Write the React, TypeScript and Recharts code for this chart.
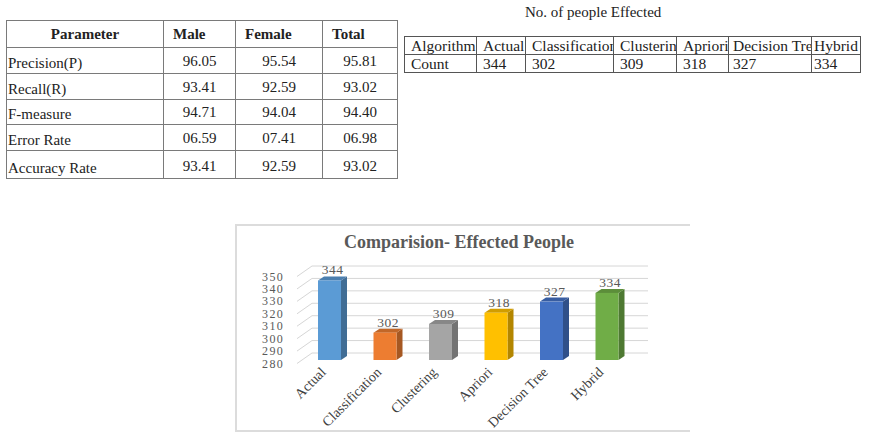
import React from 'react';
import { BarChart, Bar, XAxis, YAxis, CartesianGrid, Cell } from 'recharts';

// Evaluation parameters table
const paramNames = ['Precision(P)', 'Recall(R)', 'F-measure', 'Error Rate', 'Accuracy Rate'];
const maleValues = ['96.05', '93.41', '94.71', '06.59', '93.41'];
const femaleValues = ['95.54', '92.59', '94.04', '07.41', '92.59'];
const totalValues = ['95.81', '93.02', '94.40', '06.98', '93.02'];
const paramHeaders = ['Parameter', 'Male', 'Female', 'Total'];

// Affected people per algorithm
const algorithms = ['Actual', 'Classification', 'Clustering', 'Apriori', 'Decision Tree', 'Hybrid'];
const counts = [344, 302, 309, 318, 327, 334];
const barColors = ['#5B9BD5', '#ED7D31', '#A5A5A5', '#FFC000', '#4472C4', '#70AD47'];
const yTicks = [280, 290, 300, 310, 320, 330, 340, 350];

const chartData = algorithms.map((name, i) => ({ name, count: counts[i] }));

const SERIF = '"Liberation Serif", "Times New Roman", serif';

function shade(hex: string, f: number): string {
  const n = parseInt(hex.slice(1), 16);
  const r = Math.round(((n >> 16) & 255) * f);
  const g = Math.round(((n >> 8) & 255) * f);
  const b = Math.round((n & 255) * f);
  return `rgb(${r},${g},${b})`;
}

// Bar with a side and top face for a 3D look
const Bar3D = (props: any) => {
  const { x, y, width, height, fill } = props;
  if (height == null || width == null) return null;
  const dx = 6;
  const dy = 4;
  return (
    <g>
      <polygon
        points={`${x + width},${y} ${x + width + dx},${y - dy} ${x + width + dx},${y + height - dy} ${x + width},${y + height}`}
        fill={shade(fill, 0.7)}
      />
      <polygon
        points={`${x},${y} ${x + dx},${y - dy} ${x + width + dx},${y - dy} ${x + width},${y}`}
        fill={shade(fill, 0.82)}
      />
      <rect x={x} y={y} width={width} height={height} fill={fill} />
    </g>
  );
};

const valueLabel = (p: any) => (
  <text
    key={`lbl-${p.index}`}
    x={p.x + p.width / 2 + 3}
    y={p.y - 6}
    textAnchor="middle"
    fontSize={13.5}
    fontFamily={SERIF}
    fill="#595959"
    letterSpacing={0.5}
  >
    {p.value}
  </text>
);

const YTick = (p: any) => (
  <text
    x={p.x}
    y={p.y}
    dy={7.5}
    textAnchor="end"
    fontSize={12}
    letterSpacing={1.3}
    fontFamily={SERIF}
    fill="#595959"
  >
    {p.payload.value}
  </text>
);

const XTick = (p: any) => {
  const ax = p.x - 3;
  const ay = p.y + 13;
  return (
    <text
      x={ax}
      y={ay}
      transform={`rotate(-45 ${ax} ${ay})`}
      textAnchor="end"
      fontSize={14}
      fontFamily={SERIF}
      fill="#404040"
    >
      {p.payload.value}
    </text>
  );
};

// Back-wall grid: short diagonal from the axis, then a horizontal line
const gridLine = (p: any) => (
  <path
    key={p.key ?? `g-${p.index}`}
    d={`M${p.x1 - 5},${p.y1 + 3.5} L${p.x1 + 10},${p.y1 - 7} L${p.x2 + 13},${p.y1 - 7}`}
    stroke="#d6d6d6"
    strokeWidth={1}
    fill="none"
  />
);

const cellBase: React.CSSProperties = {
  border: '1.5px solid #7a7a7a',
  padding: 0,
  overflow: 'hidden',
  whiteSpace: 'nowrap',
};

export default function App() {
  const paramColWidths = [157, 72, 87, 75];
  const algoColWidths = [72, 49, 88, 63, 52, 83, 49];
  const algoPad = [6, 6, 6, 6, 6, 4, 2];
  const rowHeights = [26, 26, 25, 26, 28];

  return (
    <div
      style={{
        position: 'absolute',
        left: 0,
        top: 0,
        width: 872,
        height: 444,
        background: '#ffffff',
        overflow: 'hidden',
        fontFamily: SERIF,
        color: '#222',
      }}
    >
      {/* Parameter table */}
      <table
        style={{
          position: 'absolute',
          left: 6,
          top: 20,
          borderCollapse: 'collapse',
          tableLayout: 'fixed',
          width: 391,
          fontSize: 15,
        }}
      >
        <colgroup>
          {paramColWidths.map((w, i) => (
            <col key={i} style={{ width: w }} />
          ))}
        </colgroup>
        <tbody>
          <tr style={{ height: 27 }}>
            {paramHeaders.map((h, i) => (
              <th
                key={h}
                style={{
                  ...cellBase,
                  fontWeight: 'bold',
                  textAlign: i === 0 ? 'center' : 'left',
                  paddingLeft: i === 0 ? 0 : 9,
                  verticalAlign: 'middle',
                }}
              >
                {h}
              </th>
            ))}
          </tr>
          {paramNames.map((name, r) => (
            <tr key={name} style={{ height: rowHeights[r] }}>
              <td style={{ ...cellBase, textAlign: 'left', paddingLeft: 1, verticalAlign: 'bottom', paddingBottom: 1 }}>
                {name}
              </td>
              {[maleValues[r], femaleValues[r], totalValues[r]].map((v, c) => (
                <td
                  key={c}
                  style={{ ...cellBase, textAlign: 'center', verticalAlign: 'bottom', paddingBottom: 3 }}
                >
                  {v}
                </td>
              ))}
            </tr>
          ))}
        </tbody>
      </table>

      {/* Count table */}
      <div style={{ position: 'absolute', left: 525, top: 3, fontSize: 15, lineHeight: '18px' }}>
        No. of people Effected
      </div>
      <table
        style={{
          position: 'absolute',
          left: 404,
          top: 36,
          borderCollapse: 'collapse',
          tableLayout: 'fixed',
          width: 456,
          fontSize: 15.5,
        }}
      >
        <colgroup>
          {algoColWidths.map((w, i) => (
            <col key={i} style={{ width: w }} />
          ))}
        </colgroup>
        <tbody>
          <tr style={{ height: 18 }}>
            {['Algorithm', ...algorithms].map((a, i) => (
              <td
                key={a}
                style={{ ...cellBase, border: '1.5px solid #555', paddingLeft: algoPad[i], lineHeight: '16px' }}
              >
                {a}
              </td>
            ))}
          </tr>
          <tr style={{ height: 18 }}>
            {['Count', ...counts.map(String)].map((a, i) => (
              <td key={i} style={{ ...cellBase, border: '1.5px solid #555', paddingLeft: algoPad[i], lineHeight: '16px' }}>
                {a}
              </td>
            ))}
          </tr>
        </tbody>
      </table>

      {/* Comparison chart */}
      <div
        style={{
          position: 'absolute',
          left: 235,
          top: 224,
          width: 455,
          height: 208,
          borderTop: '2px solid #dcdcdc',
          borderLeft: '2px solid #dcdcdc',
          borderBottom: '2px solid #dcdcdc',
          boxSizing: 'border-box',
          overflow: 'hidden',
        }}
      >
        <div
          style={{
            position: 'absolute',
            left: 0,
            top: 6,
            width: 444,
            textAlign: 'center',
            fontWeight: 'bold',
            fontSize: 18,
            lineHeight: '20px',
            color: '#595959',
          }}
        >
          Comparision- Effected People
        </div>
        <BarChart
          width={453}
          height={204}
          data={chartData}
          margin={{ top: 47, right: 55, bottom: 0, left: 0 }}
          barCategoryGap={0}
        >
          <CartesianGrid vertical={false} horizontal={gridLine} />
          <YAxis
            type="number"
            domain={[280, 350]}
            ticks={yTicks}
            width={65}
            axisLine={false}
            tickLine={false}
            tickSize={0}
            tickMargin={18}
            tick={<YTick />}
            interval={0}
          />
          <XAxis
            dataKey="name"
            height={70}
            axisLine={false}
            tickLine={false}
            tickSize={0}
            tickMargin={0}
            tick={<XTick />}
            interval={0}
          />
          <Bar dataKey="count" barSize={23} shape={<Bar3D />} label={valueLabel} isAnimationActive={false}>
            {chartData.map((d, i) => (
              <Cell key={d.name} fill={barColors[i]} />
            ))}
          </Bar>
        </BarChart>
      </div>
    </div>
  );
}
